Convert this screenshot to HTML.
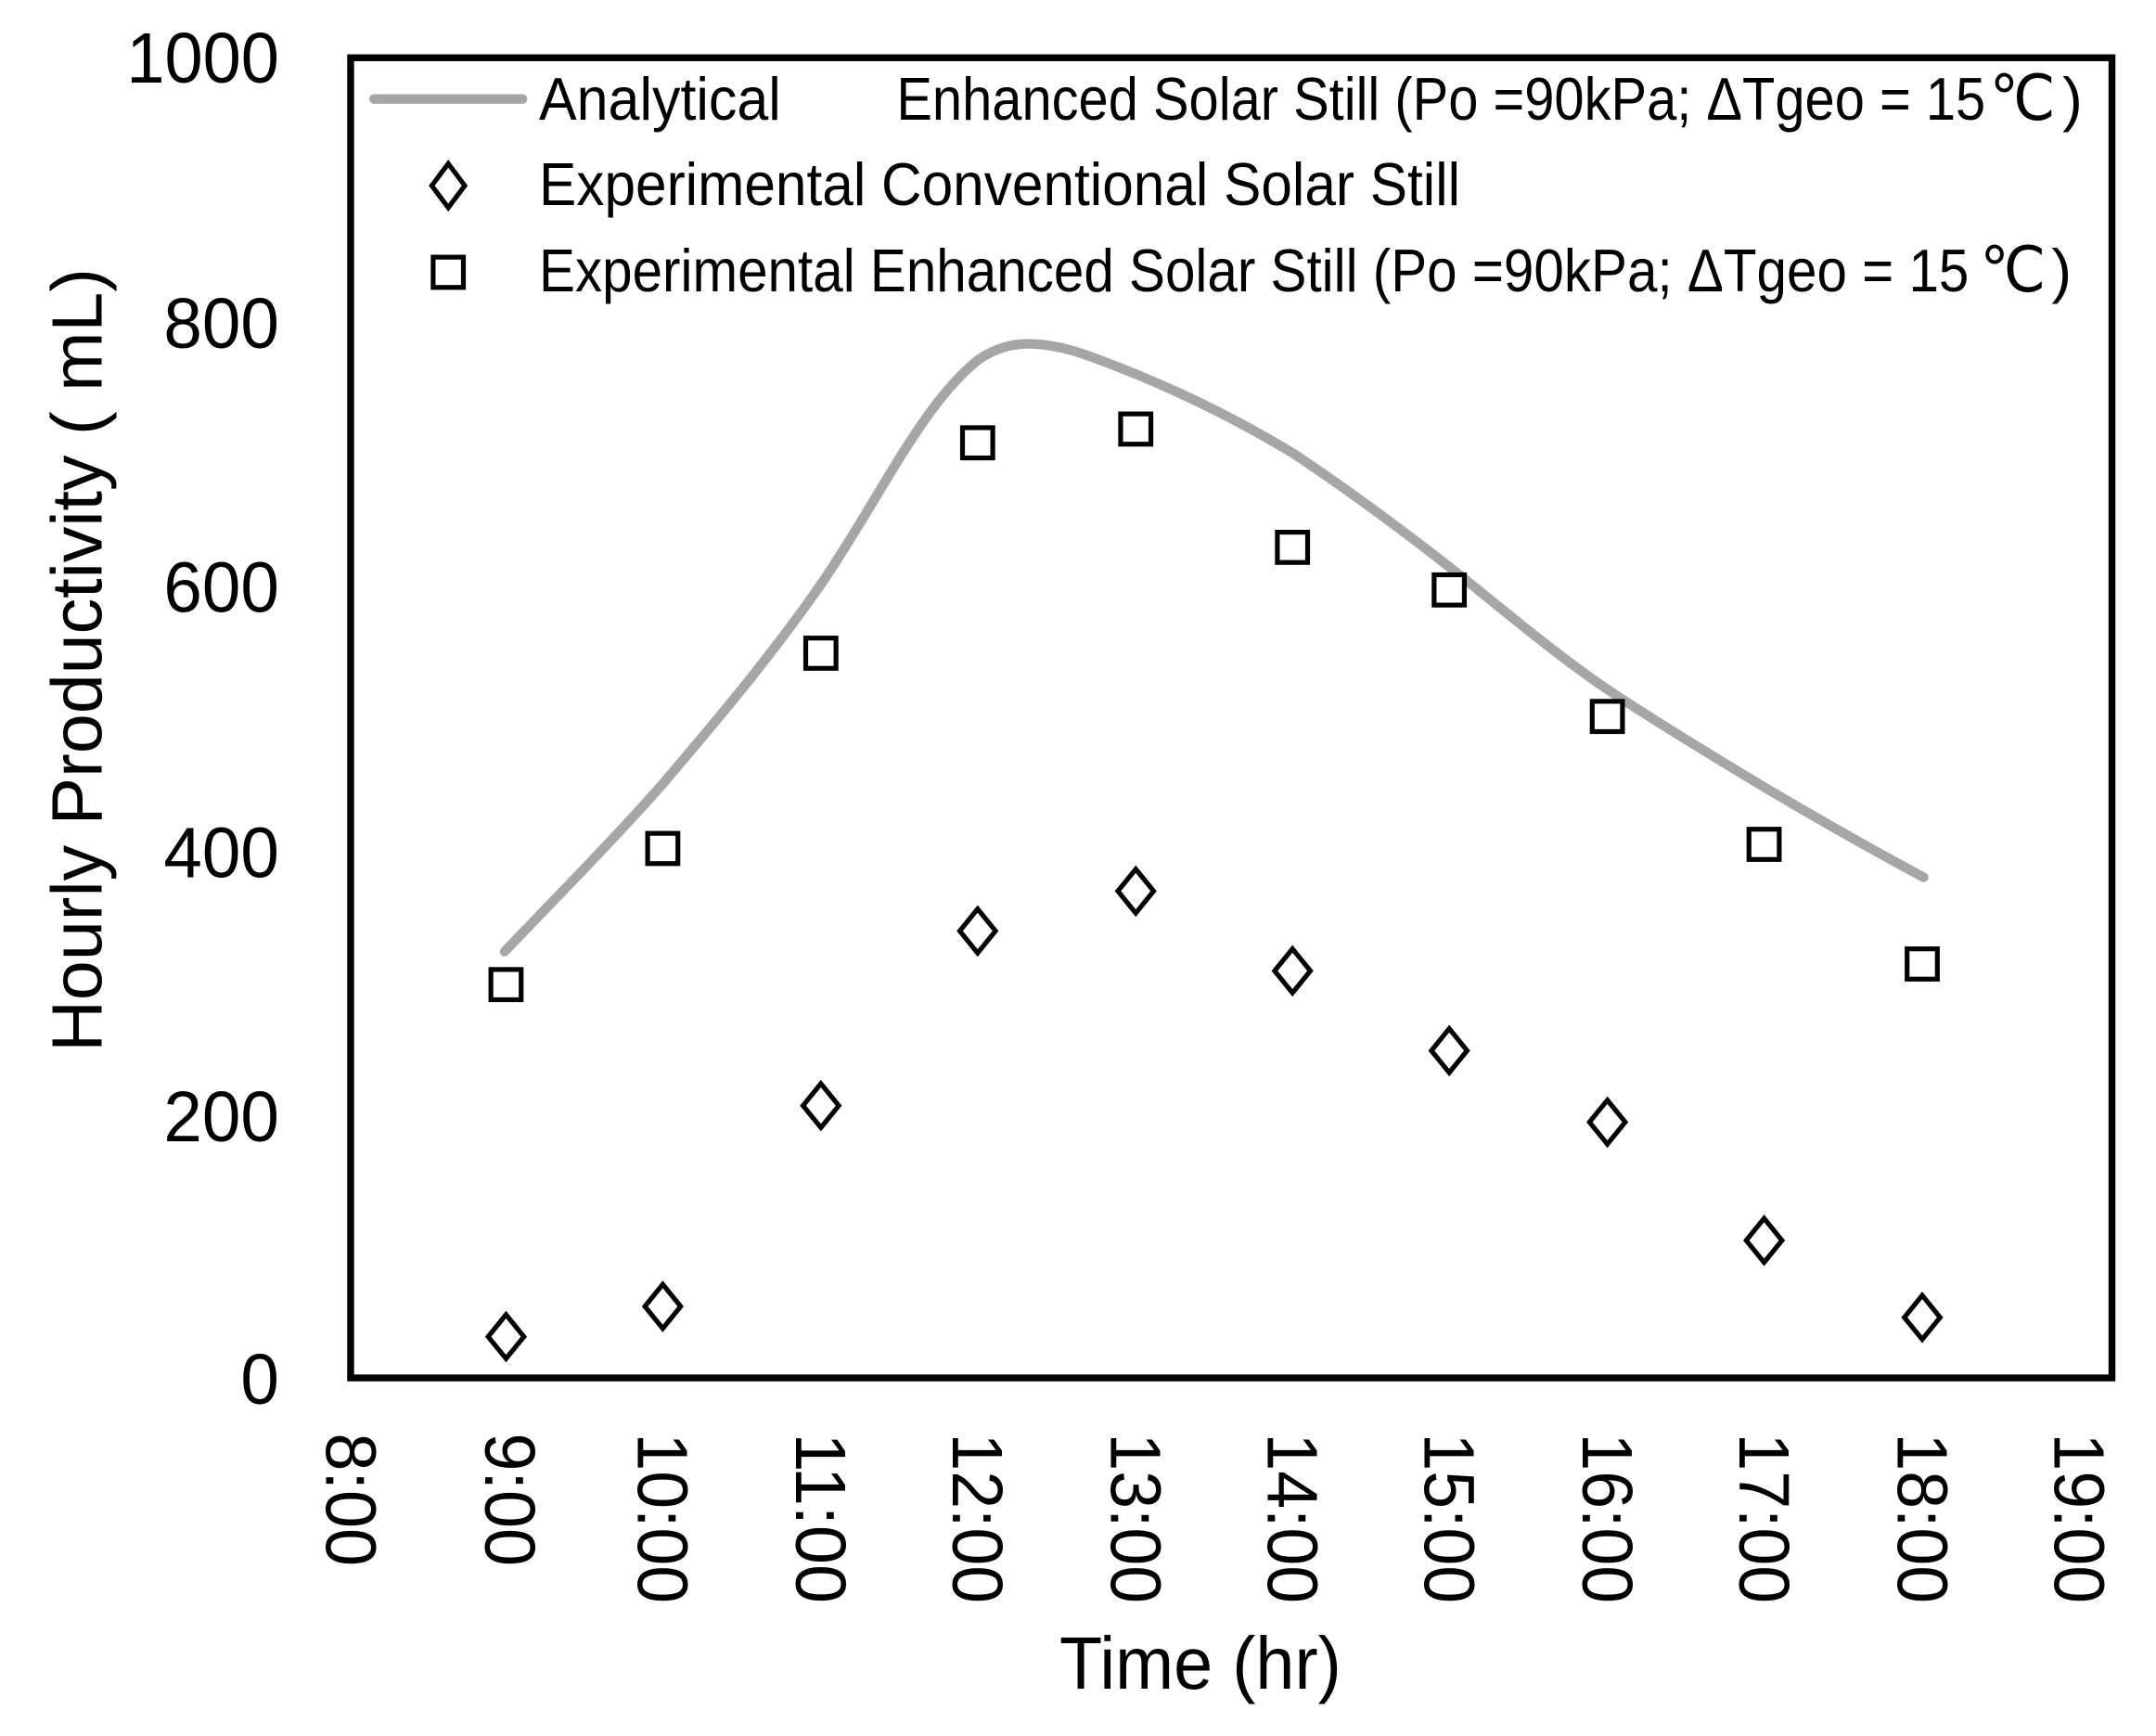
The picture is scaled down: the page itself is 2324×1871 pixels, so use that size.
<!DOCTYPE html>
<html><head><meta charset="utf-8"><style>
html,body{margin:0;padding:0;background:#fff;}
svg{display:block;}
text{font-family:"Liberation Sans",sans-serif;fill:#000;}
</style></head><body>
<svg width="2324" height="1871" viewBox="0 0 1568 1262.4" xmlns="http://www.w3.org/2000/svg">
<rect x="0" y="0" width="1568" height="1262.4" fill="#fff"/>
<!-- y tick labels -->
<g font-size="52" text-anchor="end">
<text x="203" y="60" textLength="111" lengthAdjust="spacingAndGlyphs">1000</text>
<text x="203" y="253" textLength="84" lengthAdjust="spacingAndGlyphs">800</text>
<text x="203" y="445" textLength="84" lengthAdjust="spacingAndGlyphs">600</text>
<text x="203" y="638" textLength="84" lengthAdjust="spacingAndGlyphs">400</text>
<text x="203" y="830" textLength="84" lengthAdjust="spacingAndGlyphs">200</text>
<text x="203" y="1021" textLength="28" lengthAdjust="spacingAndGlyphs">0</text>
</g>
<!-- x tick labels rotated -->
<g font-size="52">
<text transform="translate(237,1042) rotate(90)" textLength="97" lengthAdjust="spacingAndGlyphs">8:00</text>
<text transform="translate(353,1042) rotate(90)" textLength="97" lengthAdjust="spacingAndGlyphs">9:00</text>
<text transform="translate(464,1042) rotate(90)" textLength="124" lengthAdjust="spacingAndGlyphs">10:00</text>
<text transform="translate(579,1042) rotate(90)" textLength="124" lengthAdjust="spacingAndGlyphs">11:00</text>
<text transform="translate(693,1042) rotate(90)" textLength="124" lengthAdjust="spacingAndGlyphs">12:00</text>
<text transform="translate(808,1042) rotate(90)" textLength="124" lengthAdjust="spacingAndGlyphs">13:00</text>
<text transform="translate(922,1042) rotate(90)" textLength="124" lengthAdjust="spacingAndGlyphs">14:00</text>
<text transform="translate(1036,1042) rotate(90)" textLength="124" lengthAdjust="spacingAndGlyphs">15:00</text>
<text transform="translate(1151,1042) rotate(90)" textLength="124" lengthAdjust="spacingAndGlyphs">16:00</text>
<text transform="translate(1265,1042) rotate(90)" textLength="124" lengthAdjust="spacingAndGlyphs">17:00</text>
<text transform="translate(1380,1042) rotate(90)" textLength="124" lengthAdjust="spacingAndGlyphs">18:00</text>
<text transform="translate(1494,1042) rotate(90)" textLength="124" lengthAdjust="spacingAndGlyphs">19:00</text>
</g>
<text x="873" y="1228" font-size="54" text-anchor="middle" textLength="205" lengthAdjust="spacingAndGlyphs">Time (hr)</text>
<text transform="translate(74,480) rotate(-90)" font-size="52" text-anchor="middle" textLength="570" lengthAdjust="spacingAndGlyphs">Hourly Productivity ( mL)</text>
<!-- analytical line -->
<path d="M367,692 C405,652 445,612 482,570 C522,523 560,478 597,425 C640,362 670,295 711,262 C725,252 738,250 748,250 C775,250 800,262 826,272 C865,288 903,307 941,330 C980,356 1018,384 1055,413 C1093,443 1130,475 1170,502 C1208,527 1246,550 1284,573 C1323,596 1360,617 1399,638" fill="none" stroke="#a6a6a6" stroke-width="7" stroke-linecap="round" stroke-linejoin="round"/>
<!-- diamonds -->
<g fill="#fff" stroke="#000" stroke-width="3.5">
<path d="M368,956 l13,16 l-13,16 l-13,-16z"/>
<path d="M482,934 l13,16 l-13,16 l-13,-16z"/>
<path d="M597,788 l13,16 l-13,16 l-13,-16z"/>
<path d="M711,661 l13,16 l-13,16 l-13,-16z"/>
<path d="M826,632 l13,16 l-13,16 l-13,-16z"/>
<path d="M940,690 l13,16 l-13,16 l-13,-16z"/>
<path d="M1054,748 l13,16 l-13,16 l-13,-16z"/>
<path d="M1169,800 l13,16 l-13,16 l-13,-16z"/>
<path d="M1283,886 l13,16 l-13,16 l-13,-16z"/>
<path d="M1398,942 l13,16 l-13,16 l-13,-16z"/>
<path d="M326,119 l12,16 l-12,16 l-12,-16z"/>
</g>
<!-- squares -->
<g fill="#fff" stroke="#000" stroke-width="3.5">
<rect x="357" y="705" width="22" height="22"/>
<rect x="471" y="606" width="22" height="22"/>
<rect x="586" y="464" width="22" height="22"/>
<rect x="700" y="311" width="22" height="22"/>
<rect x="815" y="301" width="22" height="22"/>
<rect x="929" y="387" width="22" height="22"/>
<rect x="1043" y="418" width="22" height="22"/>
<rect x="1158" y="510" width="22" height="22"/>
<rect x="1272" y="603" width="22" height="22"/>
<rect x="1387" y="690" width="22" height="22"/>
<rect x="315" y="187" width="22" height="22"/>
</g>
<!-- plot border -->
<rect x="255" y="42" width="1281" height="960" fill="none" stroke="#000" stroke-width="5"/>
<!-- legend -->
<line x1="272" y1="72" x2="380" y2="72" stroke="#a6a6a6" stroke-width="7" stroke-linecap="round"/>
<g font-size="44">
<text x="392" y="87" textLength="176" lengthAdjust="spacingAndGlyphs">Analytical</text>
<text x="652" y="87" textLength="792" lengthAdjust="spacingAndGlyphs">Enhanced Solar Still (Po =90kPa; ΔTgeo = 15</text>
<text x="1447" y="87" style="font-family:'Liberation Serif',serif" fill="#666" font-size="46" textLength="48" lengthAdjust="spacingAndGlyphs">℃</text>
<text x="1500" y="87">)</text>
<text x="392" y="149" textLength="670" lengthAdjust="spacingAndGlyphs">Experimental Conventional Solar Still</text>
<text x="392" y="212" textLength="1040" lengthAdjust="spacingAndGlyphs">Experimental Enhanced Solar Still (Po =90kPa; ΔTgeo = 15</text>
<text x="1440" y="212" style="font-family:'Liberation Serif',serif" fill="#666" font-size="46" textLength="48" lengthAdjust="spacingAndGlyphs">℃</text>
<text x="1492" y="212">)</text>
</g>
</svg>
</body></html>
